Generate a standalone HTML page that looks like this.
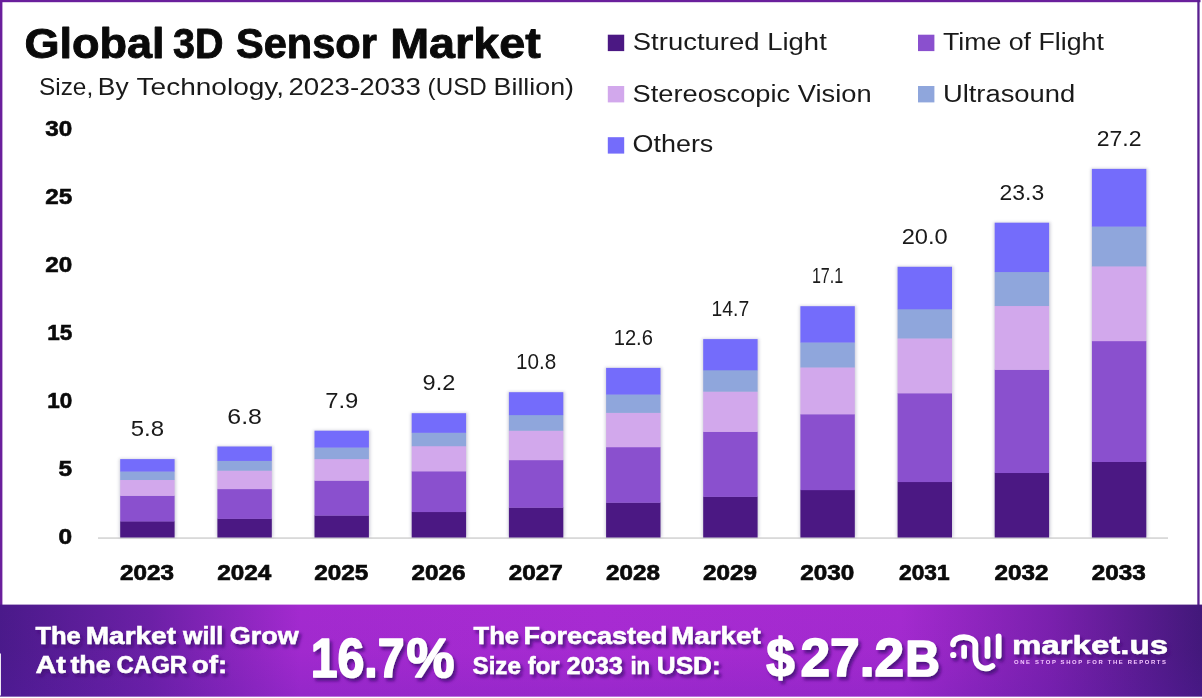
<!DOCTYPE html>
<html lang="en">
<head>
<meta charset="utf-8">
<title>Global 3D Sensor Market</title>
<style>
html,body{margin:0;padding:0;background:#fff;}
body{width:1202px;height:698px;overflow:hidden;}
svg{display:block;}
text{font-family:"Liberation Sans",sans-serif;}
.b{font-weight:700;}
</style>
</head>
<body>
<svg width="1202" height="698" viewBox="0 0 1202 698">
<defs>
<linearGradient id="ban" x1="0" y1="0" x2="1" y2="0">
<stop offset="0" stop-color="#4a1a8a"/>
<stop offset="0.125" stop-color="#6c20a6"/>
<stop offset="0.25" stop-color="#a32acf"/>
<stop offset="0.5" stop-color="#a82bd2"/>
<stop offset="0.75" stop-color="#a42acf"/>
<stop offset="0.875" stop-color="#7a20ad"/>
<stop offset="1" stop-color="#42187a"/>
</linearGradient>
<linearGradient id="banv" x1="0" y1="0" x2="0" y2="1">
<stop offset="0" stop-color="#5a1ab0" stop-opacity="0"/>
<stop offset="0.5" stop-color="#5a1ab0" stop-opacity="0.03"/>
<stop offset="1" stop-color="#5a1ab0" stop-opacity="0.2"/>
</linearGradient>
<filter id="sh" x="-20%" y="-20%" width="140%" height="140%">
<feGaussianBlur stdDeviation="1.6"/>
</filter>
<filter id="ts" x="-10%" y="-20%" width="120%" height="150%">
<feDropShadow dx="2.5" dy="3.2" stdDeviation="1.7" flood-color="#450e78" flood-opacity="0.85"/>
</filter>
</defs>
<rect x="0" y="0" width="1202" height="698" fill="#ffffff"/>
<!-- frame -->
<rect x="0" y="0" width="1200.5" height="2.2" fill="#6a1f9c"/>
<rect x="0" y="0" width="2.4" height="606" fill="#6a1f9c"/>
<rect x="1197.3" y="0" width="2.3" height="606" fill="#5a2090"/>

<text class="b" y="57.5" font-size="42" fill="#0a0a0a" stroke="#0a0a0a" stroke-width="0.9" stroke-linejoin="round"><tspan x="24.4" textLength="140.2" lengthAdjust="spacingAndGlyphs">Global</tspan> <tspan x="173.0" textLength="50.4" lengthAdjust="spacingAndGlyphs">3D</tspan> <tspan x="236.0" textLength="140.8" lengthAdjust="spacingAndGlyphs">Sensor</tspan> <tspan x="390.2" textLength="150.6" lengthAdjust="spacingAndGlyphs">Market</tspan></text>
<text y="95" font-size="24.5" fill="#1a1a1a"><tspan x="39.0" textLength="54.2" lengthAdjust="spacingAndGlyphs">Size,</tspan> <tspan x="97.8" textLength="30.8" lengthAdjust="spacingAndGlyphs">By</tspan> <tspan x="136.6" textLength="147.4" lengthAdjust="spacingAndGlyphs">Technology,</tspan> <tspan x="288.4" textLength="132.4" lengthAdjust="spacingAndGlyphs">2023-2033</tspan> <tspan x="427.6" textLength="59.2" lengthAdjust="spacingAndGlyphs">(USD</tspan> <tspan x="493.6" textLength="80.4" lengthAdjust="spacingAndGlyphs">Billion)</tspan></text>
<rect x="607.8" y="34.7" width="16.4" height="16.4" fill="#4b1883"/>
<text x="632.8" y="50.2" font-size="23.5" textLength="194" lengthAdjust="spacingAndGlyphs" fill="#1a1a1a">Structured Light</text>
<rect x="918.0" y="34.7" width="16.4" height="16.4" fill="#8a50ce"/>
<text x="942.9" y="50.2" font-size="23.5" textLength="161" lengthAdjust="spacingAndGlyphs" fill="#1a1a1a">Time of Flight</text>
<rect x="607.8" y="86.0" width="16.4" height="16.4" fill="#d2a8ec"/>
<text x="632.6" y="101.7" font-size="23.5" textLength="239" lengthAdjust="spacingAndGlyphs" fill="#1a1a1a">Stereoscopic Vision</text>
<rect x="918.0" y="86.0" width="16.4" height="16.4" fill="#8fa6dc"/>
<text x="942.9" y="101.7" font-size="23.5" textLength="132.3" lengthAdjust="spacingAndGlyphs" fill="#1a1a1a">Ultrasound</text>
<rect x="607.8" y="137.2" width="16.4" height="16.4" fill="#746cfb"/>
<text x="632.6" y="151.5" font-size="23.5" textLength="80.7" lengthAdjust="spacingAndGlyphs" fill="#1a1a1a">Others</text>
<text class="b" x="58.6" y="543.9" font-size="22.3" textLength="13.6" lengthAdjust="spacingAndGlyphs" fill="#0a0a0a" stroke="#0a0a0a" stroke-width="0.6">0</text>
<text class="b" x="58.6" y="475.9" font-size="22.3" textLength="13.6" lengthAdjust="spacingAndGlyphs" fill="#0a0a0a" stroke="#0a0a0a" stroke-width="0.6">5</text>
<text class="b" x="47.2" y="407.9" font-size="22.3" textLength="25.0" lengthAdjust="spacingAndGlyphs" fill="#0a0a0a" stroke="#0a0a0a" stroke-width="0.6">10</text>
<text class="b" x="47.2" y="339.9" font-size="22.3" textLength="25.0" lengthAdjust="spacingAndGlyphs" fill="#0a0a0a" stroke="#0a0a0a" stroke-width="0.6">15</text>
<text class="b" x="45.2" y="271.9" font-size="22.3" textLength="27.0" lengthAdjust="spacingAndGlyphs" fill="#0a0a0a" stroke="#0a0a0a" stroke-width="0.6">20</text>
<text class="b" x="45.2" y="203.9" font-size="22.3" textLength="27.0" lengthAdjust="spacingAndGlyphs" fill="#0a0a0a" stroke="#0a0a0a" stroke-width="0.6">25</text>
<text class="b" x="45.2" y="135.9" font-size="22.3" textLength="27.0" lengthAdjust="spacingAndGlyphs" fill="#0a0a0a" stroke="#0a0a0a" stroke-width="0.6">30</text>
<rect x="98" y="537.2" width="1070" height="1.8" fill="#d9d9d9"/>
<rect x="119.2" y="458.6" width="56.9" height="78.6" fill="#55507a" opacity="0.26" filter="url(#sh)"/>
<rect x="120.2" y="521.19" width="54.4" height="16.31" fill="#4b1883"/>
<rect x="120.2" y="495.57" width="54.4" height="25.92" fill="#8a50ce"/>
<rect x="120.2" y="479.72" width="54.4" height="16.15" fill="#d2a8ec"/>
<rect x="120.2" y="471.28" width="54.4" height="8.73" fill="#8fa6dc"/>
<rect x="120.2" y="459.10" width="54.4" height="12.48" fill="#746cfb"/>
<text x="130.7" y="436.2" font-size="22.6" textLength="33.4" lengthAdjust="spacingAndGlyphs" fill="#1a1a1a">5.8</text>
<text class="b" x="120.0" y="580.3" font-size="22.4" textLength="54" lengthAdjust="spacingAndGlyphs" fill="#0a0a0a" stroke="#0a0a0a" stroke-width="0.7">2023</text>
<rect x="216.4" y="446.0" width="56.9" height="91.2" fill="#55507a" opacity="0.26" filter="url(#sh)"/>
<rect x="217.4" y="518.61" width="54.4" height="18.89" fill="#4b1883"/>
<rect x="217.4" y="488.86" width="54.4" height="30.05" fill="#8a50ce"/>
<rect x="217.4" y="470.44" width="54.4" height="18.71" fill="#d2a8ec"/>
<rect x="217.4" y="460.65" width="54.4" height="10.10" fill="#8fa6dc"/>
<rect x="217.4" y="446.50" width="54.4" height="14.45" fill="#746cfb"/>
<text x="227.3" y="423.6" font-size="22.6" textLength="34.6" lengthAdjust="spacingAndGlyphs" fill="#1a1a1a">6.8</text>
<text class="b" x="217.2" y="580.3" font-size="22.4" textLength="54" lengthAdjust="spacingAndGlyphs" fill="#0a0a0a" stroke="#0a0a0a" stroke-width="0.7">2024</text>
<rect x="313.5" y="430.2" width="56.9" height="107.0" fill="#55507a" opacity="0.26" filter="url(#sh)"/>
<rect x="314.5" y="515.37" width="54.4" height="22.13" fill="#4b1883"/>
<rect x="314.5" y="480.44" width="54.4" height="35.23" fill="#8a50ce"/>
<rect x="314.5" y="458.82" width="54.4" height="21.92" fill="#d2a8ec"/>
<rect x="314.5" y="447.31" width="54.4" height="11.80" fill="#8fa6dc"/>
<rect x="314.5" y="430.70" width="54.4" height="16.91" fill="#746cfb"/>
<text x="325.2" y="407.8" font-size="22.6" textLength="33.1" lengthAdjust="spacingAndGlyphs" fill="#1a1a1a">7.9</text>
<text class="b" x="314.3" y="580.3" font-size="22.4" textLength="54" lengthAdjust="spacingAndGlyphs" fill="#0a0a0a" stroke="#0a0a0a" stroke-width="0.7">2025</text>
<rect x="410.7" y="412.7" width="56.9" height="124.5" fill="#55507a" opacity="0.26" filter="url(#sh)"/>
<rect x="411.7" y="511.78" width="54.4" height="25.72" fill="#4b1883"/>
<rect x="411.7" y="471.11" width="54.4" height="40.97" fill="#8a50ce"/>
<rect x="411.7" y="445.94" width="54.4" height="25.47" fill="#d2a8ec"/>
<rect x="411.7" y="432.54" width="54.4" height="13.69" fill="#8fa6dc"/>
<rect x="411.7" y="413.20" width="54.4" height="19.64" fill="#746cfb"/>
<text x="422.6" y="390.3" font-size="22.6" textLength="32.7" lengthAdjust="spacingAndGlyphs" fill="#1a1a1a">9.2</text>
<text class="b" x="411.5" y="580.3" font-size="22.4" textLength="54" lengthAdjust="spacingAndGlyphs" fill="#0a0a0a" stroke="#0a0a0a" stroke-width="0.7">2026</text>
<rect x="507.9" y="391.7" width="56.9" height="145.5" fill="#55507a" opacity="0.26" filter="url(#sh)"/>
<rect x="508.9" y="507.48" width="54.4" height="30.02" fill="#4b1883"/>
<rect x="508.9" y="459.92" width="54.4" height="47.86" fill="#8a50ce"/>
<rect x="508.9" y="430.48" width="54.4" height="29.74" fill="#d2a8ec"/>
<rect x="508.9" y="414.82" width="54.4" height="15.96" fill="#8fa6dc"/>
<rect x="508.9" y="392.20" width="54.4" height="22.92" fill="#746cfb"/>
<text x="516.0" y="369.3" font-size="22.6" textLength="40.2" lengthAdjust="spacingAndGlyphs" fill="#1a1a1a">10.8</text>
<text class="b" x="508.7" y="580.3" font-size="22.4" textLength="54" lengthAdjust="spacingAndGlyphs" fill="#0a0a0a" stroke="#0a0a0a" stroke-width="0.7">2027</text>
<rect x="605.1" y="367.4" width="56.9" height="169.8" fill="#55507a" opacity="0.26" filter="url(#sh)"/>
<rect x="606.1" y="502.49" width="54.4" height="35.01" fill="#4b1883"/>
<rect x="606.1" y="446.96" width="54.4" height="55.83" fill="#8a50ce"/>
<rect x="606.1" y="412.60" width="54.4" height="34.67" fill="#d2a8ec"/>
<rect x="606.1" y="394.31" width="54.4" height="18.58" fill="#8fa6dc"/>
<rect x="606.1" y="367.90" width="54.4" height="26.71" fill="#746cfb"/>
<text x="613.7" y="345.0" font-size="22.6" textLength="39.2" lengthAdjust="spacingAndGlyphs" fill="#1a1a1a">12.6</text>
<text class="b" x="605.9" y="580.3" font-size="22.4" textLength="54" lengthAdjust="spacingAndGlyphs" fill="#0a0a0a" stroke="#0a0a0a" stroke-width="0.7">2028</text>
<rect x="702.2" y="338.6" width="56.9" height="198.6" fill="#55507a" opacity="0.26" filter="url(#sh)"/>
<rect x="703.2" y="496.59" width="54.4" height="40.91" fill="#4b1883"/>
<rect x="703.2" y="431.61" width="54.4" height="65.28" fill="#8a50ce"/>
<rect x="703.2" y="391.40" width="54.4" height="40.51" fill="#d2a8ec"/>
<rect x="703.2" y="370.00" width="54.4" height="21.69" fill="#8fa6dc"/>
<rect x="703.2" y="339.10" width="54.4" height="31.20" fill="#746cfb"/>
<text x="711.6" y="316.2" font-size="22.6" textLength="37.6" lengthAdjust="spacingAndGlyphs" fill="#1a1a1a">14.7</text>
<text class="b" x="703.0" y="580.3" font-size="22.4" textLength="54" lengthAdjust="spacingAndGlyphs" fill="#0a0a0a" stroke="#0a0a0a" stroke-width="0.7">2029</text>
<rect x="799.4" y="305.7" width="56.9" height="231.5" fill="#55507a" opacity="0.26" filter="url(#sh)"/>
<rect x="800.4" y="489.85" width="54.4" height="47.65" fill="#4b1883"/>
<rect x="800.4" y="414.08" width="54.4" height="76.07" fill="#8a50ce"/>
<rect x="800.4" y="367.18" width="54.4" height="47.19" fill="#d2a8ec"/>
<rect x="800.4" y="342.24" width="54.4" height="25.25" fill="#8fa6dc"/>
<rect x="800.4" y="306.20" width="54.4" height="36.34" fill="#746cfb"/>
<text x="811.9" y="283.3" font-size="22.6" textLength="31.4" lengthAdjust="spacingAndGlyphs" fill="#1a1a1a">17.1</text>
<text class="b" x="800.2" y="580.3" font-size="22.4" textLength="54" lengthAdjust="spacingAndGlyphs" fill="#0a0a0a" stroke="#0a0a0a" stroke-width="0.7">2030</text>
<rect x="896.6" y="266.3" width="56.9" height="270.9" fill="#55507a" opacity="0.26" filter="url(#sh)"/>
<rect x="897.6" y="481.77" width="54.4" height="55.73" fill="#4b1883"/>
<rect x="897.6" y="393.08" width="54.4" height="88.99" fill="#8a50ce"/>
<rect x="897.6" y="338.19" width="54.4" height="55.19" fill="#d2a8ec"/>
<rect x="897.6" y="308.98" width="54.4" height="29.50" fill="#8fa6dc"/>
<rect x="897.6" y="266.80" width="54.4" height="42.48" fill="#746cfb"/>
<text x="901.7" y="243.9" font-size="22.6" textLength="46.1" lengthAdjust="spacingAndGlyphs" fill="#1a1a1a">20.0</text>
<text class="b" x="899.1" y="580.3" font-size="22.4" textLength="50.5" lengthAdjust="spacingAndGlyphs" fill="#0a0a0a" stroke="#0a0a0a" stroke-width="0.7">2031</text>
<rect x="993.7" y="222.2" width="56.9" height="315.0" fill="#55507a" opacity="0.26" filter="url(#sh)"/>
<rect x="994.7" y="472.73" width="54.4" height="64.77" fill="#4b1883"/>
<rect x="994.7" y="369.57" width="54.4" height="103.46" fill="#8a50ce"/>
<rect x="994.7" y="305.73" width="54.4" height="64.14" fill="#d2a8ec"/>
<rect x="994.7" y="271.76" width="54.4" height="34.27" fill="#8fa6dc"/>
<rect x="994.7" y="222.70" width="54.4" height="49.36" fill="#746cfb"/>
<text x="999.6" y="199.8" font-size="22.6" textLength="44.6" lengthAdjust="spacingAndGlyphs" fill="#1a1a1a">23.3</text>
<text class="b" x="994.5" y="580.3" font-size="22.4" textLength="54" lengthAdjust="spacingAndGlyphs" fill="#0a0a0a" stroke="#0a0a0a" stroke-width="0.7">2032</text>
<rect x="1090.9" y="168.4" width="56.9" height="368.8" fill="#55507a" opacity="0.26" filter="url(#sh)"/>
<rect x="1091.9" y="461.70" width="54.4" height="75.80" fill="#4b1883"/>
<rect x="1091.9" y="340.90" width="54.4" height="121.10" fill="#8a50ce"/>
<rect x="1091.9" y="266.13" width="54.4" height="75.06" fill="#d2a8ec"/>
<rect x="1091.9" y="226.35" width="54.4" height="40.08" fill="#8fa6dc"/>
<rect x="1091.9" y="168.90" width="54.4" height="57.75" fill="#746cfb"/>
<text x="1096.7" y="146.0" font-size="22.6" textLength="44.8" lengthAdjust="spacingAndGlyphs" fill="#1a1a1a">27.2</text>
<text class="b" x="1091.7" y="580.3" font-size="22.4" textLength="54" lengthAdjust="spacingAndGlyphs" fill="#0a0a0a" stroke="#0a0a0a" stroke-width="0.7">2033</text>
<rect x="0" y="604.6" width="1202" height="92" fill="url(#ban)"/>
<rect x="0" y="604.6" width="1202" height="92" fill="url(#banv)"/>
<rect x="0" y="653.5" width="0.9" height="42" fill="#ffffff"/>
<g fill="#ffffff" stroke="#ffffff" stroke-width="0.5" filter="url(#ts)">
<text class="b" y="643.7" font-size="24.5" ><tspan x="35.4" textLength="45.4" lengthAdjust="spacingAndGlyphs">The</tspan> <tspan x="85.8" textLength="90.2" lengthAdjust="spacingAndGlyphs">Market</tspan> <tspan x="183.0" textLength="40.2" lengthAdjust="spacingAndGlyphs">will</tspan> <tspan x="229.8" textLength="68.8" lengthAdjust="spacingAndGlyphs">Grow</tspan></text>
<text class="b" y="673.2" font-size="24.5" ><tspan x="35.4" textLength="30.4" lengthAdjust="spacingAndGlyphs">At</tspan> <tspan x="70.4" textLength="40.2" lengthAdjust="spacingAndGlyphs">the</tspan> <tspan x="116.6" textLength="70.4" lengthAdjust="spacingAndGlyphs">CAGR</tspan> <tspan x="191.8" textLength="35.4" lengthAdjust="spacingAndGlyphs">of:</tspan></text>
<g stroke-width="1.7" stroke-linejoin="round">
<text class="b" y="677.2" font-size="55.5" ><tspan x="310.8" textLength="93.7" lengthAdjust="spacingAndGlyphs">16.7</tspan><tspan x="406.6" textLength="47.9" lengthAdjust="spacingAndGlyphs">%</tspan></text>
</g>
<text class="b" y="644.2" font-size="24.5" ><tspan x="473.6" textLength="45.4" lengthAdjust="spacingAndGlyphs">The</tspan> <tspan x="523.4" textLength="144.2" lengthAdjust="spacingAndGlyphs">Forecasted</tspan> <tspan x="671.0" textLength="89.8" lengthAdjust="spacingAndGlyphs">Market</tspan></text>
<text class="b" y="673.6" font-size="24.5" ><tspan x="472.6" textLength="48.2" lengthAdjust="spacingAndGlyphs">Size</tspan> <tspan x="527.8" textLength="31.8" lengthAdjust="spacingAndGlyphs">for</tspan> <tspan x="566.6" textLength="56.2" lengthAdjust="spacingAndGlyphs">2033</tspan> <tspan x="630.4" textLength="19.6" lengthAdjust="spacingAndGlyphs">in</tspan> <tspan x="656.8" textLength="63.8" lengthAdjust="spacingAndGlyphs">USD:</tspan></text>
<g stroke-width="1.7" stroke-linejoin="round">
<text class="b" y="675.8" font-size="54.5"><tspan x="766.3" textLength="28.4" lengthAdjust="spacingAndGlyphs">$</tspan><tspan x="800.5" textLength="103.5" lengthAdjust="spacingAndGlyphs">27.2</tspan><tspan x="905.3" font-size="49.5" textLength="34.5" lengthAdjust="spacingAndGlyphs">B</tspan></text>
</g>
<text class="b" x="1012" y="654" font-size="25.5" textLength="156" lengthAdjust="spacingAndGlyphs">market.us</text>
<g fill="none" stroke="#ffffff" stroke-width="5.7" stroke-linecap="round" stroke-linejoin="round">
<path d="M953 644.3 C953 634.6 975.3 634.6 975.3 645 L975.3 656.5 C975.3 669.3 987 670.3 992.4 666"/>
<path d="M964.1 647.5 L964.1 656"/>
<path d="M987.4 639 L987.4 656"/>
<path d="M998.6 636.3 L998.6 656"/>
</g>
<circle cx="953.2" cy="655" r="3.1" fill="#fff" stroke="none"/>
</g>
<text class="b" x="1014" y="663.8" font-size="5.9" textLength="152" lengthAdjust="spacing" fill="#f4c6ff">ONE STOP SHOP FOR THE REPORTS</text>
</svg>
</body>
</html>
